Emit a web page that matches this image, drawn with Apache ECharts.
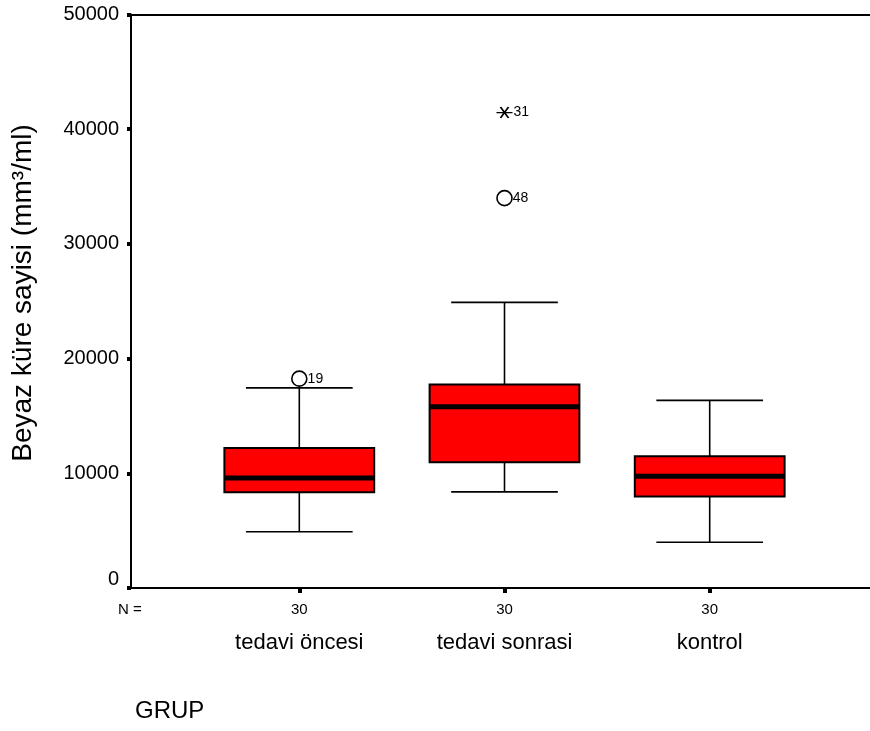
<!DOCTYPE html>
<html>
<head>
<meta charset="utf-8">
<script src="https://cdn.jsdelivr.net/npm/echarts@6/dist/echarts.min.js"></script>
<style>html,body{margin:0;padding:0;background:#fff}#c{width:870px;height:731px}</style>
</head>
<body>
<div id="c"></div>
<script>
// ---- data ----
var categories = ['tedavi öncesi', 'tedavi sonrasi', 'kontrol'];
var counts = [30, 30, 30];
// [whiskerLow, Q1, median, Q3, whiskerHigh]
var boxStats = [
  [4900, 8350, 9600, 12200, 17450],
  [8380, 10960, 15810, 17750, 24900],
  [3990, 7970, 9740, 11480, 16360]
];
// outliers: [categoryIndex, value, case label]
var circleOutliers = [[0, 18250, '19'], [1, 33990, '48']];
var extremeOutliers = [[1, 41450, '31']];
var yTicks = { min: 0, max: 50000, interval: 10000 };
var yTitle = 'Beyaz küre sayisi (mm³/ml)';
var xTitle = 'GRUP';

var FONT = '"Liberation Sans", Arial, sans-serif';
var chart = echarts.init(document.getElementById('c'), null, { renderer: 'canvas' });

var boxData = boxStats.map(function (s, i) { return [i].concat(s); });

var option = {
  animation: false,
  backgroundColor: '#fff',
  textStyle: { fontFamily: FONT, color: '#000' },
  grid: [
    { left: 131, right: 0, top: 14.5, bottom: 143 },
    { left: 196.7, right: 57.7, top: 14.5, bottom: 143 }
  ],
  xAxis: [
    { gridIndex: 0, type: 'value', min: 0, max: 1, position: 'bottom',
      axisLine: { show: true, lineStyle: { color: '#000', width: 2 } },
      axisTick: { show: false }, axisLabel: { show: false }, splitLine: { show: false } },
    { gridIndex: 0, type: 'value', min: 0, max: 1, position: 'top',
      axisLine: { show: true, lineStyle: { color: '#000', width: 2 } },
      axisTick: { show: false }, axisLabel: { show: false }, splitLine: { show: false } },
    { gridIndex: 1, type: 'category', data: categories, position: 'bottom',
      axisLine: { show: false },
      axisTick: { show: true, alignWithLabel: true, length: 5, lineStyle: { color: '#000', width: 4 } },
      axisLabel: { show: true, margin: 14, fontSize: 15, color: '#000', fontFamily: FONT,
        formatter: function (v, i) { return String(counts[i]); } },
      splitLine: { show: false } },
    { gridIndex: 1, type: 'category', data: categories, position: 'bottom',
      axisLine: { show: false }, axisTick: { show: false },
      axisLabel: { show: true, margin: 44, fontSize: 22, color: '#000', fontFamily: FONT },
      splitLine: { show: false } }
  ],
  yAxis: [
    { gridIndex: 0, type: 'value', min: yTicks.min, max: yTicks.max, interval: yTicks.interval,
      axisLine: { show: true, lineStyle: { color: '#000', width: 2 } },
      axisTick: { show: true, length: 4, lineStyle: { color: '#000', width: 4 } },
      axisLabel: { fontSize: 20, color: '#000', margin: 12, fontFamily: FONT,
        formatter: function (v) { return v === 0 ? '{z|0}' : String(v); },
        rich: { z: { fontSize: 20, fontFamily: FONT, color: '#000', padding: [0, 0, 18, 0] } } },
      splitLine: { show: false } },
    { gridIndex: 1, type: 'value', min: yTicks.min, max: yTicks.max, show: false,
      splitLine: { show: false } }
  ],
  graphic: [
    { type: 'text', x: 23, y: 293, rotation: Math.PI / 2,
      style: { text: yTitle, fontSize: 28, fill: '#000', fontFamily: FONT, align: 'center', verticalAlign: 'middle' } },
    { type: 'text', left: 118, top: 602, style: { text: 'N =', fontSize: 15, fill: '#000', fontFamily: FONT } },
    { type: 'text', left: 135, top: 699, style: { text: xTitle, fontSize: 24, fill: '#000', fontFamily: FONT } }
  ],
  series: [
    {
      type: 'custom', xAxisIndex: 2, yAxisIndex: 1, data: boxData,
      encode: { x: 0, y: [1, 2, 3, 4, 5] },
      renderItem: function (params, api) {
        var idx = api.value(0);
        var band = api.size([1, 0])[0];
        var bw = band * 0.73, cw = band * 0.52;
        var pLo = api.coord([idx, api.value(1)]);
        var pQ1 = api.coord([idx, api.value(2)]);
        var pMd = api.coord([idx, api.value(3)]);
        var pQ3 = api.coord([idx, api.value(4)]);
        var pHi = api.coord([idx, api.value(5)]);
        var x = pMd[0];
        var ls = { stroke: '#000', lineWidth: 1.6 };
        return {
          type: 'group',
          children: [
            { type: 'line', shape: { x1: x, y1: pHi[1], x2: x, y2: pQ3[1] }, style: ls },
            { type: 'line', shape: { x1: x, y1: pQ1[1], x2: x, y2: pLo[1] }, style: ls },
            { type: 'line', shape: { x1: x - cw / 2, y1: pHi[1], x2: x + cw / 2, y2: pHi[1] }, style: ls },
            { type: 'line', shape: { x1: x - cw / 2, y1: pLo[1], x2: x + cw / 2, y2: pLo[1] }, style: ls },
            { type: 'rect', shape: { x: x - bw / 2, y: pQ3[1], width: bw, height: pQ1[1] - pQ3[1] },
              style: { fill: '#ff0000', stroke: '#000', lineWidth: 2 } },
            { type: 'line', shape: { x1: x - bw / 2, y1: pMd[1], x2: x + bw / 2, y2: pMd[1] },
              style: { stroke: '#000', lineWidth: 5 } }
          ]
        };
      }
    },
    {
      type: 'scatter', xAxisIndex: 2, yAxisIndex: 1, data: circleOutliers,
      symbol: 'circle', symbolSize: 15,
      itemStyle: { color: '#fff', borderColor: '#000', borderWidth: 1.6, opacity: 1 },
      label: { show: true, position: 'right', distance: 0, fontSize: 14, color: '#000', fontFamily: FONT,
        formatter: function (p) { return p.value[2]; } }
    },
    {
      type: 'scatter', xAxisIndex: 2, yAxisIndex: 1, data: extremeOutliers,
      symbol: 'path://M0,5.5L16,5.5M4,0L12,11M12,0L4,11', symbolSize: [16, 11],
      itemStyle: { color: 'none', borderColor: '#000', borderWidth: 1.6, opacity: 1 },
      label: { show: true, position: 'right', distance: -2, fontSize: 14, color: '#000', fontFamily: FONT,
        formatter: function (p) { return p.value[2]; } }
    }
  ]
};
chart.setOption(option);
</script>
</body>
</html>
